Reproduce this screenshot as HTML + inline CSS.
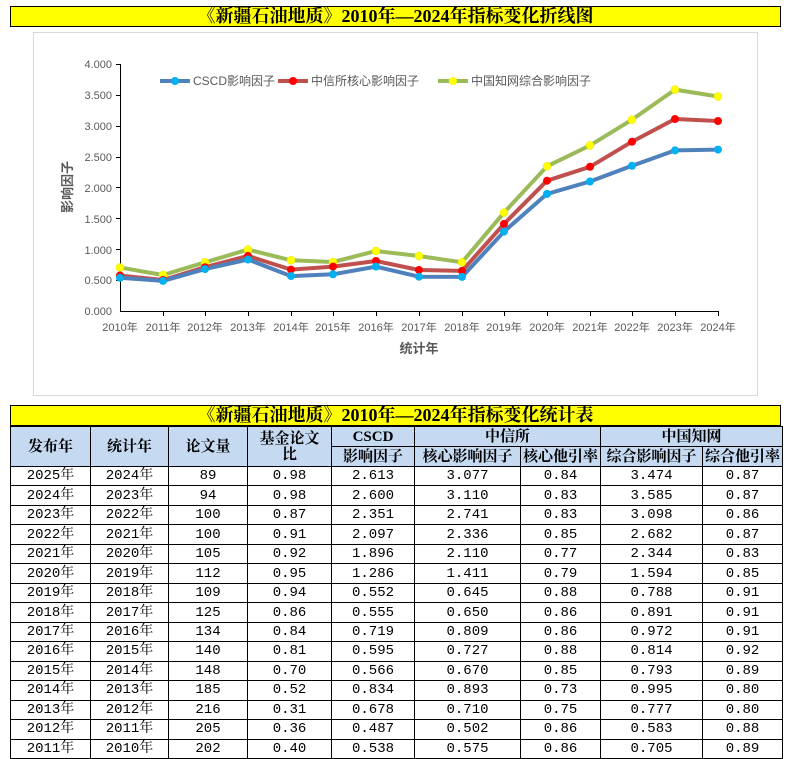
<!DOCTYPE html>
<html><head><meta charset="utf-8"><style>
body{margin:0;width:792px;height:759px;background:#fff;position:relative;overflow:hidden;font-family:"Liberation Serif","Noto Serif CJK SC",serif}
.bar{position:absolute;left:10px;width:769px;height:19px;background:#ffff00;border:1px solid #000;text-align:center;font-weight:bold;font-size:18px;line-height:19px;font-family:"Liberation Serif","Noto Serif CJK SC",serif;overflow:hidden}
table{position:absolute;left:10px;top:426px;border-collapse:collapse;table-layout:fixed;width:772px}
td{border:1px solid #000;text-align:center;padding:0;font-size:14px;height:18.5px;line-height:16px;font-family:"Liberation Mono","Noto Serif CJK SC",serif;overflow:hidden;white-space:nowrap;box-sizing:border-box}
tr{height:19.47px}
.h td{background:#c5d9f1;font-weight:bold;font-family:"Liberation Serif","Noto Serif CJK SC",serif;font-size:15px;line-height:16px;height:19.5px}
</style></head><body>
<div class="bar" style="top:6px">《新疆石油地质》2010年—2024年指标变化折线图</div>
<div style="position:absolute;left:33px;top:32px;width:723px;height:362px;border:1px solid #d9d9d9"></div>
<svg style="position:absolute;left:0;top:0" width="792" height="400" font-family="'Liberation Sans','Noto Sans CJK SC',sans-serif">
<g font-size="11" fill="#595959" text-anchor="end">
<text x="112" y="68">4.000</text><text x="112" y="99">3.500</text><text x="112" y="130">3.000</text><text x="112" y="161">2.500</text><text x="112" y="192">2.000</text><text x="112" y="223">1.500</text><text x="112" y="254">1.000</text><text x="112" y="284">0.500</text><text x="112" y="315">0.000</text>
</g>
<g stroke="#000" stroke-width="1">
<line x1="120.5" y1="64" x2="120.5" y2="311"/><line x1="120" y1="311.5" x2="718" y2="311.5"/>
<path d="M116 64.5h4M116 95.5h4M116 126.5h4M116 157.5h4M116 187.5h4M116 218.5h4M116 249.5h4M116 280.5h4"/>
<path d="M163.5 311v5M205.5 311v5M248.5 311v5M291.5 311v5M333.5 311v5M376.5 311v5M419.5 311v5M462.5 311v5M504.5 311v5M547.5 311v5M590.5 311v5M632.5 311v5M675.5 311v5M718.5 311v5"/>
</g>
<g font-size="11" fill="#595959" text-anchor="middle">
<text x="120" y="331">2010年</text><text x="163" y="331">2011年</text><text x="205" y="331">2012年</text><text x="248" y="331">2013年</text><text x="291" y="331">2014年</text><text x="333" y="331">2015年</text><text x="376" y="331">2016年</text><text x="419" y="331">2017年</text><text x="462" y="331">2018年</text><text x="504" y="331">2019年</text><text x="547" y="331">2020年</text><text x="590" y="331">2021年</text><text x="632" y="331">2022年</text><text x="675" y="331">2023年</text><text x="718" y="331">2024年</text>
</g>
<text x="419" y="353" font-size="13" font-weight="bold" fill="#595959" text-anchor="middle">统计年</text>
<text transform="translate(72 187) rotate(-90)" font-size="13" font-weight="bold" fill="#595959" text-anchor="middle">影响因子</text>
<g stroke-width="4" fill="none" stroke-linejoin="round">
<polyline stroke="#9bbb59" points="120,267.5 163,275 205,262.3 248,249.6 291,260.3 333,262 376,251 419,256 462,262.3 504,212.6 547,166.3 590,145.4 632,119.7 675,89.6 718,96.5"/>
<polyline stroke="#c0504d" points="120,275.5 163,280 205,267.2 248,255.9 291,269.6 333,266.6 376,261 419,270 462,270.9 504,223.9 547,180.7 590,166.8 632,141.7 675,119 718,121"/>
<polyline stroke="#4f81bd" points="120,277.8 163,280.9 205,269.1 248,259.5 291,276.1 333,274.3 376,266.6 419,276.7 462,276.9 504,231.6 547,193.9 590,181.5 632,165.8 675,150.4 718,149.6"/>
</g>
<g fill="#ffff00" stroke="#e6e600" stroke-width="0.5">
<circle cx="120" cy="267.5" r="4"/><circle cx="163" cy="275" r="4"/><circle cx="205" cy="262.3" r="4"/><circle cx="248" cy="249.6" r="4"/><circle cx="291" cy="260.3" r="4"/><circle cx="333" cy="262" r="4"/><circle cx="376" cy="251" r="4"/><circle cx="419" cy="256" r="4"/><circle cx="462" cy="262.3" r="4"/><circle cx="504" cy="212.6" r="4"/><circle cx="547" cy="166.3" r="4"/><circle cx="590" cy="145.4" r="4"/><circle cx="632" cy="119.7" r="4"/><circle cx="675" cy="89.6" r="4"/><circle cx="718" cy="96.5" r="4"/>
</g>
<g fill="#ff0000">
<circle cx="120" cy="275.5" r="4"/><circle cx="163" cy="280" r="4"/><circle cx="205" cy="267.2" r="4"/><circle cx="248" cy="255.9" r="4"/><circle cx="291" cy="269.6" r="4"/><circle cx="333" cy="266.6" r="4"/><circle cx="376" cy="261" r="4"/><circle cx="419" cy="270" r="4"/><circle cx="462" cy="270.9" r="4"/><circle cx="504" cy="223.9" r="4"/><circle cx="547" cy="180.7" r="4"/><circle cx="590" cy="166.8" r="4"/><circle cx="632" cy="141.7" r="4"/><circle cx="675" cy="119" r="4"/><circle cx="718" cy="121" r="4"/>
</g>
<g fill="#00b0f0">
<circle cx="120" cy="277.8" r="4"/><circle cx="163" cy="280.9" r="4"/><circle cx="205" cy="269.1" r="4"/><circle cx="248" cy="259.5" r="4"/><circle cx="291" cy="276.1" r="4"/><circle cx="333" cy="274.3" r="4"/><circle cx="376" cy="266.6" r="4"/><circle cx="419" cy="276.7" r="4"/><circle cx="462" cy="276.9" r="4"/><circle cx="504" cy="231.6" r="4"/><circle cx="547" cy="193.9" r="4"/><circle cx="590" cy="181.5" r="4"/><circle cx="632" cy="165.8" r="4"/><circle cx="675" cy="150.4" r="4"/><circle cx="718" cy="149.6" r="4"/>
</g>
<g font-size="12" fill="#595959">
<line x1="160" y1="81" x2="190" y2="81" stroke="#4f81bd" stroke-width="4"/><circle cx="175" cy="81" r="4" fill="#00b0f0"/><text x="193" y="85">CSCD影响因子</text>
<line x1="278" y1="81" x2="308" y2="81" stroke="#c0504d" stroke-width="4"/><circle cx="293" cy="81" r="4" fill="#ff0000"/><text x="311" y="85">中信所核心影响因子</text>
<line x1="438" y1="81" x2="468" y2="81" stroke="#9bbb59" stroke-width="4"/><circle cx="453" cy="81" r="4" fill="#ffff00"/><text x="471" y="85">中国知网综合影响因子</text>
</g>
</svg>
<div class="bar" style="top:405px">《新疆石油地质》2010年—2024年指标变化统计表</div>
<table>
<colgroup><col style="width:80px"><col style="width:78px"><col style="width:79px"><col style="width:84px"><col style="width:83px"><col style="width:106px"><col style="width:80px"><col style="width:102px"><col style="width:80px"></colgroup>
<tr class="h" style="height:20px"><td rowspan="2">发布年</td><td rowspan="2">统计年</td><td rowspan="2">论文量</td><td rowspan="2">基金论文<br>比</td><td>CSCD</td><td colspan="2">中信所</td><td colspan="2">中国知网</td></tr>
<tr class="h" style="height:20px"><td>影响因子</td><td>核心影响因子</td><td>核心他引率</td><td>综合影响因子</td><td>综合他引率</td></tr>
<tr><td>2025年</td><td>2024年</td><td>89</td><td>0.98</td><td>2.613</td><td>3.077</td><td>0.84</td><td>3.474</td><td>0.87</td></tr>
<tr><td>2024年</td><td>2023年</td><td>94</td><td>0.98</td><td>2.600</td><td>3.110</td><td>0.83</td><td>3.585</td><td>0.87</td></tr>
<tr><td>2023年</td><td>2022年</td><td>100</td><td>0.87</td><td>2.351</td><td>2.741</td><td>0.83</td><td>3.098</td><td>0.86</td></tr>
<tr><td>2022年</td><td>2021年</td><td>100</td><td>0.91</td><td>2.097</td><td>2.336</td><td>0.85</td><td>2.682</td><td>0.87</td></tr>
<tr><td>2021年</td><td>2020年</td><td>105</td><td>0.92</td><td>1.896</td><td>2.110</td><td>0.77</td><td>2.344</td><td>0.83</td></tr>
<tr><td>2020年</td><td>2019年</td><td>112</td><td>0.95</td><td>1.286</td><td>1.411</td><td>0.79</td><td>1.594</td><td>0.85</td></tr>
<tr><td>2019年</td><td>2018年</td><td>109</td><td>0.94</td><td>0.552</td><td>0.645</td><td>0.88</td><td>0.788</td><td>0.91</td></tr>
<tr><td>2018年</td><td>2017年</td><td>125</td><td>0.86</td><td>0.555</td><td>0.650</td><td>0.86</td><td>0.891</td><td>0.91</td></tr>
<tr><td>2017年</td><td>2016年</td><td>134</td><td>0.84</td><td>0.719</td><td>0.809</td><td>0.86</td><td>0.972</td><td>0.91</td></tr>
<tr><td>2016年</td><td>2015年</td><td>140</td><td>0.81</td><td>0.595</td><td>0.727</td><td>0.88</td><td>0.814</td><td>0.92</td></tr>
<tr><td>2015年</td><td>2014年</td><td>148</td><td>0.70</td><td>0.566</td><td>0.670</td><td>0.85</td><td>0.793</td><td>0.89</td></tr>
<tr><td>2014年</td><td>2013年</td><td>185</td><td>0.52</td><td>0.834</td><td>0.893</td><td>0.73</td><td>0.995</td><td>0.80</td></tr>
<tr><td>2013年</td><td>2012年</td><td>216</td><td>0.31</td><td>0.678</td><td>0.710</td><td>0.75</td><td>0.777</td><td>0.80</td></tr>
<tr><td>2012年</td><td>2011年</td><td>205</td><td>0.36</td><td>0.487</td><td>0.502</td><td>0.86</td><td>0.583</td><td>0.88</td></tr>
<tr><td>2011年</td><td>2010年</td><td>202</td><td>0.40</td><td>0.538</td><td>0.575</td><td>0.86</td><td>0.705</td><td>0.89</td></tr>
</table>
</body></html>
